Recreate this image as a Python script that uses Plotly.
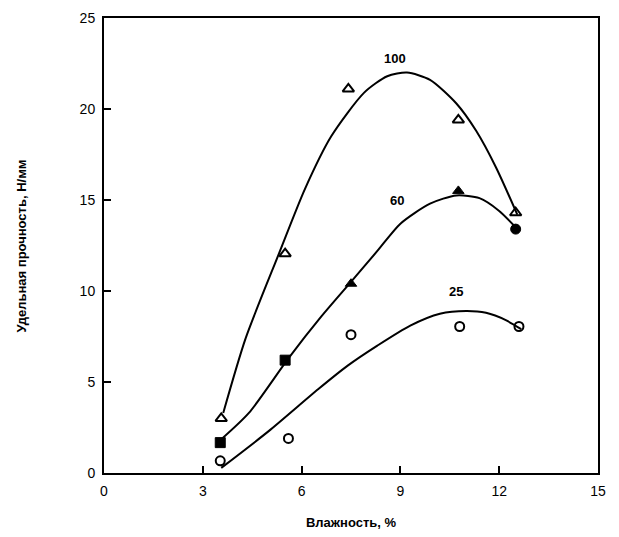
import plotly.graph_objects as go

# --- measured points ---
x100 = [3.56, 5.5, 7.42, 10.76, 12.5]
y100 = [3.0, 12.05, 21.1, 19.4, 14.3]
x60 = [3.53, 5.5, 7.5, 10.76, 12.5]
y60 = [1.67, 6.2, 10.4, 15.5, 13.4]
x25 = [3.53, 5.6, 7.5, 10.8, 12.6]
y25 = [0.67, 1.9, 7.6, 8.05, 8.05]

# --- hand-drawn curves ---
cx100 = [3.62, 4.3, 5.3, 6.1, 6.9, 7.9, 8.6, 9.2, 9.9, 10.7, 11.3, 11.9, 12.55]
cy100 = [3.3, 7.4, 12.0, 15.6, 18.5, 20.9, 21.8, 22.0, 21.6, 20.3, 18.8, 16.8, 14.2]
cx60 = [3.53, 4.4, 5.6, 6.6, 7.5, 8.3, 9.0, 9.9, 10.7, 11.4, 12.0, 12.5]
cy60 = [1.8, 3.3, 6.3, 8.6, 10.5, 12.2, 13.7, 14.8, 15.25, 15.1, 14.4, 13.5]
cx25 = [3.56, 5.0, 6.5, 7.4, 8.3, 9.3, 10.2, 11.0, 11.6, 12.2, 12.67]
cy25 = [0.28, 2.3, 4.6, 5.9, 7.0, 8.1, 8.75, 8.9, 8.8, 8.4, 7.9]

curve_labels = ["100", "60", "25"]
label_x = [8.85, 8.9, 10.7]
label_y = [22.8, 15.0, 10.0]

x_ticks = [0, 3, 6, 9, 12, 15]
y_ticks = [0, 5, 10, 15, 20, 25]

x_title = "Влажность, %"
y_title = "Удельная прочность, Н/мм"

# styles (kept separate from data)
sym60 = ["square", "square", "triangle-up", "triangle-up", "circle"]
FONT = "Liberation Sans"

fig = go.Figure()
line_style = dict(color="black", width=2, shape="spline", smoothing=0.7)
for cx, cy in [(cx100, cy100), (cx60, cy60), (cx25, cy25)]:
    fig.add_trace(go.Scatter(x=cx, y=cy, mode="lines", line=line_style,
                             hoverinfo="skip", showlegend=False))

fig.add_trace(go.Scatter(x=x100, y=y100, mode="markers", showlegend=False,
                         marker=dict(symbol="triangle-up-open", size=10,
                                     color="black", line=dict(width=2, color="black"))))
fig.add_trace(go.Scatter(x=x60, y=y60, mode="markers", showlegend=False,
                         marker=dict(symbol=sym60, size=10, color="black",
                                     line=dict(width=1, color="black"))))
fig.add_trace(go.Scatter(x=x25, y=y25, mode="markers", showlegend=False,
                         marker=dict(symbol="circle-open", size=9, color="black",
                                     line=dict(width=2, color="black"))))

for t, lx, ly in zip(curve_labels, label_x, label_y):
    fig.add_annotation(x=lx, y=ly, text="<b>%s</b>" % t, showarrow=False,
                       font=dict(family=FONT, size=13, color="black"))

fig.add_annotation(xref="paper", yref="paper", x=-0.166, y=0.5, xanchor="center",
                   yanchor="middle", textangle=-90, showarrow=False,
                   text="<b>%s</b>" % y_title,
                   font=dict(family=FONT, size=13, color="black"))

axis_common = dict(showline=True, linecolor="black", linewidth=2, mirror=True,
                   ticks="inside", ticklen=7, tickwidth=2, tickcolor="black",
                   showgrid=False, zeroline=False, automargin=False,
                   tickfont=dict(family=FONT, size=14, color="black"))

fig.update_xaxes(range=[0, 15], tickvals=x_ticks, ticktext=[str(v) for v in x_ticks],
                 ticklabelstandoff=4,
                 title=dict(text="<b>%s</b>" % x_title, font=dict(family=FONT, size=13, color="black"),
                            standoff=20),
                 **axis_common)
fig.update_yaxes(range=[0, 25], tickvals=y_ticks, ticktext=[str(v) for v in y_ticks],
                 ticklabelstandoff=4, **axis_common)

# page body adds an 8px offset; size and margins compensate for it
fig.update_layout(width=611, height=529,
                  margin=dict(l=96, r=21, t=10, b=64),
                  plot_bgcolor="white", paper_bgcolor="white")

fig.write_html("out.html")
